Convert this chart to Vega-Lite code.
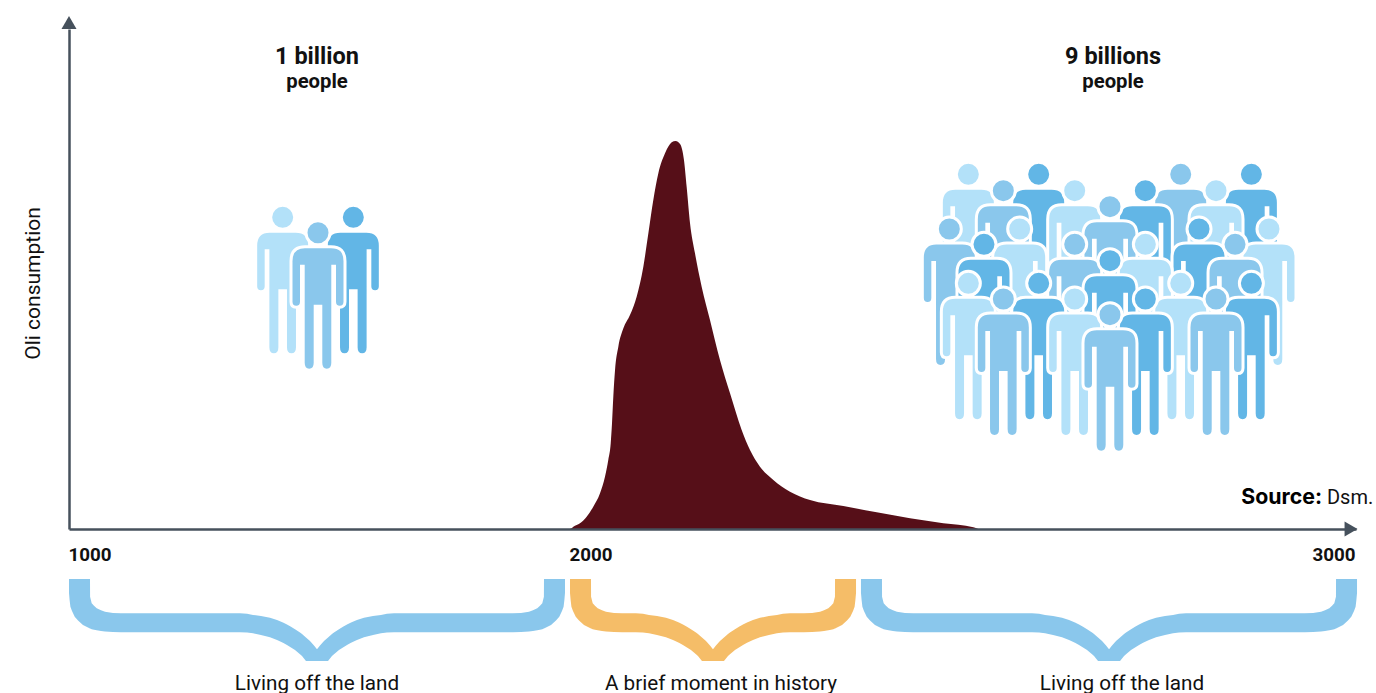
{"$schema":"https://vega.github.io/schema/vega-lite/v6.json","width":1287,"height":500,"autosize":"none","padding":{"left":69,"right":20,"top":29,"bottom":164},"background":"white","config":{"view":{"stroke":null},"font":"Roboto"},
"layer":[
{"data":{"values":[{"year":2000,"oil":0},{"year":2001.5,"oil":0.12},{"year":2004.2,"oil":0.46},{"year":2012.7,"oil":1.14},{"year":2021.2,"oil":2.46},{"year":2029.6,"oil":4.46},{"year":2038.2,"oil":7.14},{"year":2044.5,"oil":10.46},{"year":2048.7,"oil":13.8},{"year":2051.8,"oil":17.14},{"year":2053.4,"oil":21},{"year":2055.1,"oil":26.47},{"year":2057.3,"oil":31.8},{"year":2061.5,"oil":36.47},{"year":2067.9,"oil":40.13},{"year":2076.3,"oil":42.8},{"year":2084.8,"oil":46.47},{"year":2093.3,"oil":52.47},{"year":2099.7,"oil":59.13},{"year":2106,"oil":65.8},{"year":2112.4,"oil":71.13},{"year":2120.9,"oil":75.13},{"year":2129.4,"oil":77.33},{"year":2134.4,"oil":77.6},{"year":2140,"oil":77},{"year":2145,"oil":73.8},{"year":2148.4,"oil":68.47},{"year":2152.7,"oil":61.13},{"year":2159,"oil":55.13},{"year":2167.5,"oil":48.47},{"year":2178.1,"oil":41.8},{"year":2190.8,"oil":33.8},{"year":2203.6,"oil":27.13},{"year":2218.4,"oil":19.8},{"year":2229,"oil":15.8},{"year":2241.7,"oil":12.47},{"year":2258.7,"oil":9.8},{"year":2279.9,"oil":7.47},{"year":2305.4,"oil":5.8},{"year":2347.8,"oil":4.6},{"year":2390.2,"oil":3.33},{"year":2432.6,"oil":2.13},{"year":2475,"oil":1.13},{"year":2513.2,"oil":0.33},{"year":2519.5,"oil":0}]},
"mark":{"type":"area","interpolate":"monotone","color":"#560F18","clip":false},
"encoding":{"x":{"field":"year","type":"quantitative","scale":{"domain":[1000,2000,3000],"range":[0,501,1287],"nice":false,"zero":false},"axis":{"title":null,"values":[1000,2000,3000],"format":"d","grid":false,"ticks":false,"domain":true,"domainColor":"#46515C","domainWidth":2.5,"labelFont":"Roboto","labelFontWeight":"bold","labelFontSize":18.8,"labelColor":"#111111","labelPadding":16,"labelBaseline":"top","labelFlush":false,"labelOverlap":false,"labelAlign":{"expr":"datum.value==3000?'right':'left'"},"labelOffset":{"expr":"datum.value==3000?-1:-1"},"zindex":1}},
"y":{"field":"oil","type":"quantitative","scale":{"domain":[0,100],"nice":false,"zero":false},"axis":{"title":"Oli consumption","labels":false,"ticks":false,"grid":false,"domain":true,"domainColor":"#46515C","domainWidth":2.5,"titleFont":"Roboto","titleFontWeight":"normal","titleFontSize":21,"titleColor":"#111111","titleX":-36,"titleY":254,"titleAngle":270,"titleAlign":"center","titleBaseline":"middle","zindex":1}}}},
{"data":{"values":[{"year":1000,"oil":100,"oilEnd":102}]},"mark":{"type":"rule","color":"#46515C","strokeWidth":2.5},"encoding":{"x":{"field":"year","type":"quantitative"},"y":{"field":"oil","type":"quantitative"},"y2":{"field":"oilEnd"}}},
{"data":{"values":[{"year":1000,"oil":101.3}]},"mark":{"type":"point","shape":"triangle-up","size":225,"filled":true,"opacity":1,"color":"#46515C","clip":false},"encoding":{"x":{"field":"year","type":"quantitative"},"y":{"field":"oil","type":"quantitative"}}},
{"data":{"values":[{"year":2993.7,"oil":0}]},"mark":{"type":"point","shape":"triangle-right","size":225,"filled":true,"opacity":1,"color":"#46515C","clip":false},"encoding":{"x":{"field":"year","type":"quantitative"},"y":{"field":"oil","type":"quantitative"}}},
{"data":{"values":[
{"brace":"a","year":1000,"top":-10,"bot":-12.8},{"brace":"a","year":1001.2,"top":-10,"bot":-14.2},{"brace":"a","year":1002.8,"top":-10,"bot":-15.54},{"brace":"a","year":1006,"top":-10,"bot":-16.4},{"brace":"a","year":1011.4,"top":-10,"bot":-17.54},{"brace":"a","year":1018,"top":-10,"bot":-18.3},{"brace":"a","year":1027.9,"top":-10,"bot":-19.2},{"brace":"a","year":1041.9,"top":-10,"bot":-19.9},{"brace":"a","year":1042.1,"top":-13.54,"bot":-19.9},{"brace":"a","year":1045.3,"top":-14.86,"bot":-20.04},{"brace":"a","year":1049.9,"top":-15.36,"bot":-20.16},{"brace":"a","year":1055.3,"top":-15.86,"bot":-20.26},{"brace":"a","year":1063.9,"top":-16.26,"bot":-20.4},{"brace":"a","year":1071.9,"top":-16.54,"bot":-20.5},{"brace":"a","year":1087.8,"top":-16.78,"bot":-20.6},{"brace":"a","year":1103.8,"top":-16.84,"bot":-20.64},
{"brace":"a","year":1341.3,"top":-16.84,"bot":-20.64},{"brace":"a","year":1355.3,"top":-16.96,"bot":-20.72},{"brace":"a","year":1367.3,"top":-17.2,"bot":-20.86},{"brace":"a","year":1383.2,"top":-17.4,"bot":-21.2},{"brace":"a","year":1401.2,"top":-17.76,"bot":-21.66},{"brace":"a","year":1415.2,"top":-18.2,"bot":-22.2},{"brace":"a","year":1427.1,"top":-18.7,"bot":-22.74},{"brace":"a","year":1435.1,"top":-19.1,"bot":-23.2},{"brace":"a","year":1443.1,"top":-19.56,"bot":-23.7},{"brace":"a","year":1451.1,"top":-20.04,"bot":-24.2},{"brace":"a","year":1461.1,"top":-20.7,"bot":-25.06},{"brace":"a","year":1465.1,"top":-21,"bot":-25.4},{"brace":"a","year":1473,"top":-21.7,"bot":-26.4},{"brace":"a","year":1481,"top":-22.4,"bot":-26.4},{"brace":"a","year":1489,"top":-23.3,"bot":-26.4},{"brace":"a","year":1495,"top":-24.06,"bot":-26.4},
{"brace":"a","year":1501,"top":-23.3,"bot":-26.4},{"brace":"a","year":1509,"top":-22.4,"bot":-26.4},{"brace":"a","year":1517,"top":-21.7,"bot":-26.4},{"brace":"a","year":1524.9,"top":-21,"bot":-25.4},{"brace":"a","year":1528.9,"top":-20.7,"bot":-25.06},{"brace":"a","year":1538.9,"top":-20.04,"bot":-24.2},{"brace":"a","year":1546.9,"top":-19.56,"bot":-23.7},{"brace":"a","year":1554.9,"top":-19.1,"bot":-23.2},{"brace":"a","year":1562.9,"top":-18.7,"bot":-22.74},{"brace":"a","year":1574.8,"top":-18.2,"bot":-22.2},{"brace":"a","year":1588.8,"top":-17.76,"bot":-21.66},{"brace":"a","year":1606.8,"top":-17.4,"bot":-21.2},{"brace":"a","year":1622.7,"top":-17.2,"bot":-20.86},{"brace":"a","year":1634.7,"top":-16.96,"bot":-20.72},{"brace":"a","year":1648.7,"top":-16.84,"bot":-20.64},
{"brace":"a","year":1886.2,"top":-16.84,"bot":-20.64},{"brace":"a","year":1902.2,"top":-16.78,"bot":-20.6},{"brace":"a","year":1918.1,"top":-16.54,"bot":-20.5},{"brace":"a","year":1926.1,"top":-16.26,"bot":-20.4},{"brace":"a","year":1934.7,"top":-15.86,"bot":-20.26},{"brace":"a","year":1940.1,"top":-15.36,"bot":-20.16},{"brace":"a","year":1944.7,"top":-14.86,"bot":-20.04},{"brace":"a","year":1947.9,"top":-13.54,"bot":-19.9},{"brace":"a","year":1948.1,"top":-10,"bot":-19.9},{"brace":"a","year":1962.1,"top":-10,"bot":-19.2},{"brace":"a","year":1972,"top":-10,"bot":-18.3},{"brace":"a","year":1978.6,"top":-10,"bot":-17.54},{"brace":"a","year":1984,"top":-10,"bot":-16.4},{"brace":"a","year":1987.2,"top":-10,"bot":-15.54},{"brace":"a","year":1988.8,"top":-10,"bot":-14.2},{"brace":"a","year":1990,"top":-10,"bot":-12.8},
{"brace":"b","year":2000,"top":-10,"bot":-12.8},{"brace":"b","year":2000.8,"top":-10,"bot":-14.2},{"brace":"b","year":2001.8,"top":-10,"bot":-15.54},{"brace":"b","year":2003.8,"top":-10,"bot":-16.4},{"brace":"b","year":2007.3,"top":-10,"bot":-17.54},{"brace":"b","year":2011.5,"top":-10,"bot":-18.3},{"brace":"b","year":2017.8,"top":-10,"bot":-19.2},{"brace":"b","year":2026.7,"top":-10,"bot":-19.9},{"brace":"b","year":2026.8,"top":-13.54,"bot":-19.9},{"brace":"b","year":2028.9,"top":-14.86,"bot":-20.04},{"brace":"b","year":2031.8,"top":-15.36,"bot":-20.16},{"brace":"b","year":2035.2,"top":-15.86,"bot":-20.26},{"brace":"b","year":2040.7,"top":-16.26,"bot":-20.4},{"brace":"b","year":2045.8,"top":-16.54,"bot":-20.5},{"brace":"b","year":2056,"top":-16.78,"bot":-20.6},{"brace":"b","year":2066.2,"top":-16.84,"bot":-20.64},
{"brace":"b","year":2083.9,"top":-16.84,"bot":-20.64},{"brace":"b","year":2092.8,"top":-16.96,"bot":-20.72},{"brace":"b","year":2100.5,"top":-17.2,"bot":-20.86},{"brace":"b","year":2110.7,"top":-17.4,"bot":-21.2},{"brace":"b","year":2122.1,"top":-17.76,"bot":-21.66},{"brace":"b","year":2131,"top":-18.2,"bot":-22.2},{"brace":"b","year":2138.6,"top":-18.7,"bot":-22.74},{"brace":"b","year":2143.7,"top":-19.1,"bot":-23.2},{"brace":"b","year":2148.8,"top":-19.56,"bot":-23.7},{"brace":"b","year":2153.9,"top":-20.04,"bot":-24.2},{"brace":"b","year":2160.3,"top":-20.7,"bot":-25.06},{"brace":"b","year":2162.8,"top":-21,"bot":-25.4},{"brace":"b","year":2167.9,"top":-21.7,"bot":-26.4},{"brace":"b","year":2173,"top":-22.4,"bot":-26.4},{"brace":"b","year":2178.1,"top":-23.3,"bot":-26.4},{"brace":"b","year":2181.9,"top":-24.06,"bot":-26.4},
{"brace":"b","year":2185.7,"top":-23.3,"bot":-26.4},{"brace":"b","year":2190.8,"top":-22.4,"bot":-26.4},{"brace":"b","year":2195.9,"top":-21.7,"bot":-26.4},{"brace":"b","year":2201,"top":-21,"bot":-25.4},{"brace":"b","year":2203.5,"top":-20.7,"bot":-25.06},{"brace":"b","year":2209.9,"top":-20.04,"bot":-24.2},{"brace":"b","year":2215,"top":-19.56,"bot":-23.7},{"brace":"b","year":2220.1,"top":-19.1,"bot":-23.2},{"brace":"b","year":2225.2,"top":-18.7,"bot":-22.74},{"brace":"b","year":2232.8,"top":-18.2,"bot":-22.2},{"brace":"b","year":2241.7,"top":-17.76,"bot":-21.66},{"brace":"b","year":2253.1,"top":-17.4,"bot":-21.2},{"brace":"b","year":2263.3,"top":-17.2,"bot":-20.86},{"brace":"b","year":2271,"top":-16.96,"bot":-20.72},{"brace":"b","year":2279.9,"top":-16.84,"bot":-20.64},
{"brace":"b","year":2297.7,"top":-16.84,"bot":-20.64},{"brace":"b","year":2307.9,"top":-16.78,"bot":-20.6},{"brace":"b","year":2318.1,"top":-16.54,"bot":-20.5},{"brace":"b","year":2323.2,"top":-16.26,"bot":-20.4},{"brace":"b","year":2328.7,"top":-15.86,"bot":-20.26},{"brace":"b","year":2332.1,"top":-15.36,"bot":-20.16},{"brace":"b","year":2335,"top":-14.86,"bot":-20.04},{"brace":"b","year":2337.1,"top":-13.54,"bot":-19.9},{"brace":"b","year":2337.2,"top":-10,"bot":-19.9},{"brace":"b","year":2346.1,"top":-10,"bot":-19.2},{"brace":"b","year":2352.4,"top":-10,"bot":-18.3},{"brace":"b","year":2356.6,"top":-10,"bot":-17.54},{"brace":"b","year":2360.1,"top":-10,"bot":-16.4},{"brace":"b","year":2362.1,"top":-10,"bot":-15.54},{"brace":"b","year":2363.1,"top":-10,"bot":-14.2},{"brace":"b","year":2363.9,"top":-10,"bot":-12.8},
{"brace":"c","year":2370.2,"top":-10,"bot":-12.8},{"brace":"c","year":2371,"top":-10,"bot":-14.2},{"brace":"c","year":2372,"top":-10,"bot":-15.54},{"brace":"c","year":2374,"top":-10,"bot":-16.4},{"brace":"c","year":2377.5,"top":-10,"bot":-17.54},{"brace":"c","year":2381.7,"top":-10,"bot":-18.3},{"brace":"c","year":2388,"top":-10,"bot":-19.2},{"brace":"c","year":2396.9,"top":-10,"bot":-19.9},{"brace":"c","year":2397,"top":-13.54,"bot":-19.9},{"brace":"c","year":2399.1,"top":-14.86,"bot":-20.04},{"brace":"c","year":2402,"top":-15.36,"bot":-20.16},{"brace":"c","year":2405.4,"top":-15.86,"bot":-20.26},{"brace":"c","year":2410.9,"top":-16.26,"bot":-20.4},{"brace":"c","year":2416,"top":-16.54,"bot":-20.5},{"brace":"c","year":2426.2,"top":-16.78,"bot":-20.6},{"brace":"c","year":2436.4,"top":-16.84,"bot":-20.64},
{"brace":"c","year":2587.8,"top":-16.84,"bot":-20.64},{"brace":"c","year":2596.7,"top":-16.96,"bot":-20.72},{"brace":"c","year":2604.4,"top":-17.2,"bot":-20.86},{"brace":"c","year":2614.6,"top":-17.4,"bot":-21.2},{"brace":"c","year":2626,"top":-17.76,"bot":-21.66},{"brace":"c","year":2634.9,"top":-18.2,"bot":-22.2},{"brace":"c","year":2642.5,"top":-18.7,"bot":-22.74},{"brace":"c","year":2647.6,"top":-19.1,"bot":-23.2},{"brace":"c","year":2652.7,"top":-19.56,"bot":-23.7},{"brace":"c","year":2657.8,"top":-20.04,"bot":-24.2},{"brace":"c","year":2664.2,"top":-20.7,"bot":-25.06},{"brace":"c","year":2666.7,"top":-21,"bot":-25.4},{"brace":"c","year":2671.8,"top":-21.7,"bot":-26.4},{"brace":"c","year":2676.9,"top":-22.4,"bot":-26.4},{"brace":"c","year":2682,"top":-23.3,"bot":-26.4},{"brace":"c","year":2685.8,"top":-24.06,"bot":-26.4},
{"brace":"c","year":2689.6,"top":-23.3,"bot":-26.4},{"brace":"c","year":2694.7,"top":-22.4,"bot":-26.4},{"brace":"c","year":2699.8,"top":-21.7,"bot":-26.4},{"brace":"c","year":2704.9,"top":-21,"bot":-25.4},{"brace":"c","year":2707.4,"top":-20.7,"bot":-25.06},{"brace":"c","year":2713.8,"top":-20.04,"bot":-24.2},{"brace":"c","year":2718.9,"top":-19.56,"bot":-23.7},{"brace":"c","year":2724,"top":-19.1,"bot":-23.2},{"brace":"c","year":2729.1,"top":-18.7,"bot":-22.74},{"brace":"c","year":2736.7,"top":-18.2,"bot":-22.2},{"brace":"c","year":2745.6,"top":-17.76,"bot":-21.66},{"brace":"c","year":2757,"top":-17.4,"bot":-21.2},{"brace":"c","year":2767.2,"top":-17.2,"bot":-20.86},{"brace":"c","year":2774.9,"top":-16.96,"bot":-20.72},{"brace":"c","year":2783.8,"top":-16.84,"bot":-20.64},
{"brace":"c","year":2935.1,"top":-16.84,"bot":-20.64},{"brace":"c","year":2945.3,"top":-16.78,"bot":-20.6},{"brace":"c","year":2955.5,"top":-16.54,"bot":-20.5},{"brace":"c","year":2960.6,"top":-16.26,"bot":-20.4},{"brace":"c","year":2966.1,"top":-15.86,"bot":-20.26},{"brace":"c","year":2969.5,"top":-15.36,"bot":-20.16},{"brace":"c","year":2972.4,"top":-14.86,"bot":-20.04},{"brace":"c","year":2974.5,"top":-13.54,"bot":-19.9},{"brace":"c","year":2974.6,"top":-10,"bot":-19.9},{"brace":"c","year":2983.5,"top":-10,"bot":-19.2},{"brace":"c","year":2989.8,"top":-10,"bot":-18.3},{"brace":"c","year":2994,"top":-10,"bot":-17.54},{"brace":"c","year":2997.5,"top":-10,"bot":-16.4},{"brace":"c","year":2999.5,"top":-10,"bot":-15.54},{"brace":"c","year":3000.5,"top":-10,"bot":-14.2},{"brace":"c","year":3001.3,"top":-10,"bot":-12.8}
]},"mark":{"type":"area","interpolate":"linear","clip":false},"encoding":{"x":{"field":"year","type":"quantitative"},"y":{"field":"bot","type":"quantitative"},"y2":{"field":"top"},"color":{"field":"brace","type":"nominal","legend":null,"scale":{"domain":["a","b","c"],"range":["#8AC7EC","#F5BD68","#8AC7EC"]}}}},
{"data":{"values":[
{"year":1426.5,"y":49.94,"tone":"light"},{"year":1567.5,"y":49.94,"tone":"dark"},{"year":1497,"y":46.86,"tone":"mid"},
{"year":2506.8,"y":58.53,"tone":"light"},{"year":2596.3,"y":58.53,"tone":"dark"},{"year":2777,"y":58.53,"tone":"mid"},{"year":2866.9,"y":58.53,"tone":"dark"},
{"year":2551.3,"y":55.27,"tone":"mid"},{"year":2642.1,"y":55.27,"tone":"light"},{"year":2732,"y":55.27,"tone":"dark"},{"year":2821.9,"y":55.27,"tone":"light"},
{"year":2687,"y":52.07,"tone":"mid"},
{"year":2482.6,"y":47.6,"tone":"mid"},{"year":2572.1,"y":47.6,"tone":"light"},{"year":2800.3,"y":47.6,"tone":"dark"},{"year":2889.3,"y":47.6,"tone":"light"},
{"year":2526.7,"y":44.53,"tone":"dark"},{"year":2642.1,"y":44.53,"tone":"mid"},{"year":2732,"y":44.53,"tone":"light"},{"year":2846.1,"y":44.53,"tone":"mid"},
{"year":2687,"y":41.27,"tone":"dark"},
{"year":2506.8,"y":36.73,"tone":"light"},{"year":2596.3,"y":36.73,"tone":"dark"},{"year":2777,"y":36.73,"tone":"light"},{"year":2866.9,"y":36.73,"tone":"dark"},
{"year":2551.3,"y":33.6,"tone":"mid"},{"year":2642.1,"y":33.6,"tone":"light"},{"year":2732,"y":33.6,"tone":"dark"},{"year":2821.9,"y":33.6,"tone":"mid"},
{"year":2687,"y":30.47,"tone":"mid"}
]},"mark":{"type":"point","filled":true,"opacity":1,"stroke":"white","strokeWidth":3,"strokeOpacity":1,"size":21316,"clip":false,
"shape":"M-.1781,-.6575 L.1781,-.6575 Q.3699,-.6575 .3699,-.4589 L.3699,.0959 Q.3699,.1712 .2979,.1712 Q.226,.1712 .226,.0959 L.226,-.3904 L.2027,-.3904 L.2027,.9315 Q.2027,1.0342 .1205,1.0342 Q.0384,1.0342 .0384,.9315 L.0384,.1575 L-.0384,.1575 L-.0384,.9315 Q-.0384,1.0342 -.1205,1.0342 Q-.2027,1.0342 -.2027,.9315 L-.2027,-.3904 L-.226,-.3904 L-.226,.0959 Q-.226,.1712 -.2979,.1712 Q-.3699,.1712 -.3699,.0959 L-.3699,-.4589 Q-.3699,-.6575 -.1781,-.6575 Z M.1644,-.8493 C.1644,-.7585 .0908,-.6849 0,-.6849 C-.0908,-.6849 -.1644,-.7585 -.1644,-.8493 C-.1644,-.9401 -.0908,-1.0137 0,-1.0137 C.0908,-1.0137 .1644,-.9401 .1644,-.8493 Z"},
"encoding":{"x":{"field":"year","type":"quantitative"},"y":{"field":"y","type":"quantitative"},"fill":{"field":"tone","type":"nominal","legend":null,"scale":{"domain":["light","mid","dark"],"range":["#B3E1F9","#8AC7EC","#62B6E6"]}}}},
{"data":{"values":[{"label":"1 billion","year":1495,"y":94.4},{"label":"9 billions","year":2690.9,"y":94.4}]},"mark":{"type":"text","font":"Roboto","fontWeight":"bold","fontSize":23.5,"color":"#111111","align":"center","baseline":"middle","clip":false},"encoding":{"x":{"field":"year","type":"quantitative"},"y":{"field":"y","type":"quantitative"},"text":{"field":"label"}}},
{"data":{"values":[{"label":"people","year":1495,"y":89.4},{"label":"people","year":2690.9,"y":89.4}]},"mark":{"type":"text","font":"Roboto","fontWeight":"bold","fontSize":20.3,"color":"#111111","align":"center","baseline":"middle","clip":false},"encoding":{"x":{"field":"year","type":"quantitative"},"y":{"field":"y","type":"quantitative"},"text":{"field":"label"}}},
{"data":{"values":[{"label":"Source:","year":2956.8,"y":6.2}]},"mark":{"type":"text","font":"Inter","fontWeight":"bold","fontSize":21.3,"color":"#000000","align":"right","baseline":"middle","clip":false},"encoding":{"x":{"field":"year","type":"quantitative"},"y":{"field":"y","type":"quantitative"},"text":{"field":"label"}}},
{"data":{"values":[{"label":"Dsm.","year":2963.1,"y":6.2}]},"mark":{"type":"text","font":"Roboto","fontSize":20,"color":"#111111","align":"left","baseline":"middle","clip":false},"encoding":{"x":{"field":"year","type":"quantitative"},"y":{"field":"y","type":"quantitative"},"text":{"field":"label"}}},
{"data":{"values":[{"label":"Living off the land","year":1495,"y":-30.9},{"label":"A brief moment in history","year":2192.1,"y":-30.9},{"label":"Living off the land","year":2702.3,"y":-30.9}]},"mark":{"type":"text","font":"Roboto","fontSize":20.7,"color":"#111111","align":"center","baseline":"middle","clip":false},"encoding":{"x":{"field":"year","type":"quantitative"},"y":{"field":"y","type":"quantitative"},"text":{"field":"label"}}}
]}
